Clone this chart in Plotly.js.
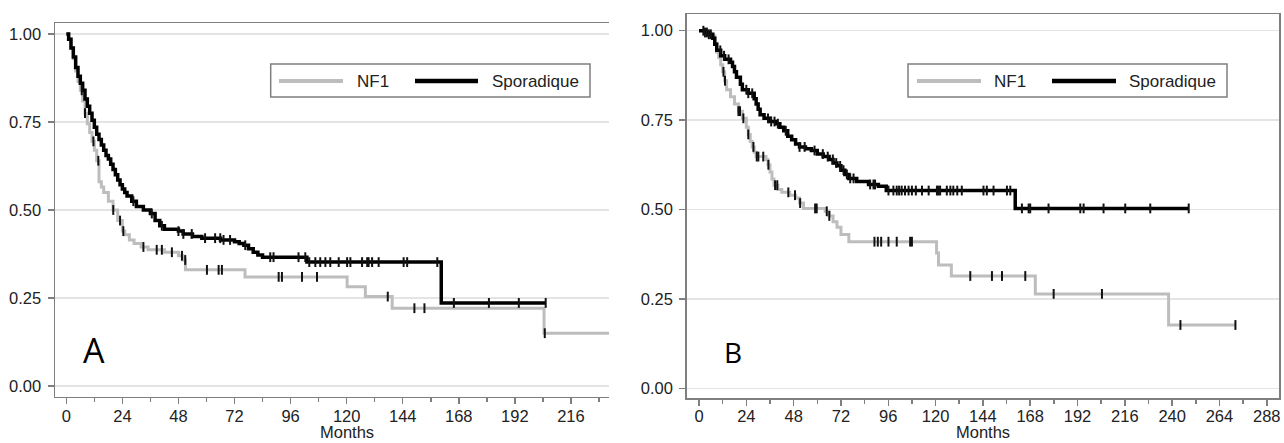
<!DOCTYPE html>
<html><head><meta charset="utf-8">
<script src="https://cdn.plot.ly/plotly-3.0.1.min.js"></script>
<style>html,body{margin:0;padding:0;background:#fff}#chart{width:1284px;height:443px}</style>
</head><body><div id="chart"></div>
<script>
// ---------- Data ----------
const seriesNames = ["NF1", "Sporadique"];
const xTickVals = [0,24,48,72,96,120,144,168,192,216,240,264,288];
const yTickVals = [0,0.25,0.5,0.75,1];
const xTitle = "Months";
const panelLabels = ["A", "B"];

// Panel A — NF1 (grey)
const A_nf1_t = [0,1,2,3,4,5,6,7,8,9,10,11,12,13,14,15,16,18,20,22,24,25,27,29,32,35,42,48,50,51,76.5,120.2,128,139.5,204.5,240];
const A_nf1_s = [1.0,0.985,0.96,0.93,0.895,0.865,0.84,0.81,0.775,0.745,0.72,0.695,0.67,0.64,0.58,0.565,0.55,0.525,0.50,0.47,0.44,0.43,0.415,0.405,0.395,0.387,0.38,0.37,0.358,0.33,0.31,0.282,0.254,0.221,0.15,0.15];
const A_nf1_cens = [6.6,8,11.6,13.7,20.1,23,24.4,33,38.7,40.9,45.2,49.5,50.9,60.2,65.2,66.6,90.9,92.3,100.9,107.3,137.6,149,153.3,204.8];

// Panel A — Sporadique (black)
const A_spo_t = [0,1,2,3,4,5,6,7,8,9,10,11,12,13,14,15,16,17,18,19,20,21,22,23,24,25,26,28,30,33,36,38,40,42,48,50,54,58,66,72,74,76,78,80,82,84,103,160.5,205.2];
const A_spo_s = [1.0,0.985,0.96,0.935,0.905,0.88,0.86,0.84,0.815,0.795,0.775,0.755,0.735,0.715,0.70,0.685,0.67,0.655,0.645,0.63,0.615,0.60,0.585,0.572,0.56,0.55,0.54,0.525,0.51,0.50,0.49,0.47,0.455,0.445,0.44,0.432,0.425,0.42,0.415,0.41,0.405,0.40,0.39,0.38,0.372,0.366,0.352,0.236,0.236];
const A_spo_cens = [28.7,36.6,40.9,48,50.1,53.7,59.4,63.7,65.9,67.3,70.1,76.6,87.3,88.7,99.4,102.3,104,106.6,108.7,110.9,113.0,116.6,120.2,121.6,126.6,128.8,129.4,130.9,133.7,144.4,145.9,158.8,165.9,180.9,193.7,205.2];

// Panel B — NF1 (grey)
const B_nf1_t = [0,4,6,8,9,10,11,12,13,14,16,18,20,22,24,25,26,27,28,29,34,35,36,37,38,40,42,46,49,51,53,64,66,68,70,72,76,120.5,121.5,128,170.6,238.2,272.1];
const B_nf1_s = [1.0,0.995,0.985,0.965,0.94,0.925,0.905,0.885,0.86,0.835,0.815,0.795,0.775,0.755,0.73,0.71,0.69,0.675,0.66,0.648,0.64,0.625,0.605,0.585,0.568,0.556,0.548,0.54,0.532,0.518,0.503,0.495,0.482,0.466,0.45,0.43,0.41,0.378,0.345,0.314,0.264,0.177,0.177];
const B_nf1_cens = [12.4,13.2,20,20.8,22.5,25,27.6,29.3,30.1,32.6,35.2,38.6,39.7,45.3,48.7,51.3,58.9,59.7,64.8,66.1,89,90.7,92.4,96.1,100.3,107.1,108,137.6,148.6,153.7,165.5,179.9,204.4,244.2,272.1];

// Panel B — Sporadique (black)
const B_spo_t = [0,3,5,7,8,9,11,13,16,17,18,19,21,22,25,28,29,30,31,33,36,39,41,43,45,47,49,51,54,57,60,63,66,68,70,72,74,76,80,86,91,95,160.4,248.4];
const B_spo_s = [1.0,0.995,0.99,0.979,0.962,0.945,0.93,0.92,0.912,0.9,0.885,0.87,0.85,0.835,0.825,0.81,0.795,0.78,0.765,0.755,0.746,0.74,0.73,0.72,0.705,0.695,0.683,0.675,0.67,0.665,0.655,0.648,0.64,0.63,0.622,0.61,0.598,0.587,0.578,0.57,0.565,0.553,0.503,0.503];
const B_spo_cens = [2.2,3,4,5,6,10.8,12.7,15,24,25,27,35,36.6,38.3,40,44,51,53.6,58.6,62.8,65.3,67.9,69.6,71.6,73.3,75,76.7,78.4,86.8,88.5,89.3,96.1,98.6,100.3,101.5,102.8,104.5,106.3,108,110,113.1,116.5,120.7,121.5,122.3,125.7,127.5,129,131,133.3,144.3,146,149.4,156.2,157.9,163.8,167.2,168,177.3,193.4,195.1,205.2,216.2,228.9,248.4];

// ---------- Styling / layout ----------
const W = 1284, H = 443;
const X = p => p / W;
const Y = p => 1 - p / H;
const GREY = '#bdbdbd', BLACK = '#000000', FRAME = '#7f7f7f', GRID = '#e4e4e4', TXT = '#222222';
const FONT = 'Liberation Sans, Arial, sans-serif';

function stepAt(ts, ss, t) {
  let v = ss[0];
  for (let i = 0; i < ts.length; i++) { if (ts[i] <= t) v = ss[i]; else break; }
  return v;
}

function curve(ts, ss, color, width, xa, ya) {
  return {x: ts, y: ss, mode: 'lines', line: {shape: 'hv', color: color, width: width},
          xaxis: xa, yaxis: ya, hoverinfo: 'skip', showlegend: false};
}
function cens(cs, ts, ss, xa, ya) {
  return {x: cs, y: cs.map(c => stepAt(ts, ss, c)), mode: 'markers',
          marker: {symbol: 'line-ns', size: 7, color: '#111', line: {width: 2, color: '#111'}},
          xaxis: xa, yaxis: ya, hoverinfo: 'skip', showlegend: false, cliponaxis: false};
}

const data = [
  curve(A_nf1_t, A_nf1_s, GREY, 3, 'x', 'y'),
  curve(A_spo_t, A_spo_s, BLACK, 3.5, 'x', 'y'),
  cens(A_nf1_cens, A_nf1_t, A_nf1_s, 'x', 'y'),
  cens(A_spo_cens, A_spo_t, A_spo_s, 'x', 'y'),
  curve(B_nf1_t, B_nf1_s, GREY, 3, 'x2', 'y2'),
  curve(B_spo_t, B_spo_s, BLACK, 3.5, 'x2', 'y2'),
  cens(B_nf1_cens, B_nf1_t, B_nf1_s, 'x2', 'y2'),
  cens(B_spo_cens, B_spo_t, B_spo_s, 'x2', 'y2')
];

function xAxis(domain, range, maxTick, anchor, standoff) {
  return {
    domain: domain, range: range, anchor: anchor,
    tickmode: 'array', tickvals: xTickVals.filter(v => v <= maxTick),
    ticktext: xTickVals.filter(v => v <= maxTick).map(String),
    ticks: 'outside', ticklen: 6, tickwidth: 1.5, tickcolor: FRAME, ticklabelstandoff: standoff,
    minor: {tickmode: 'linear', tick0: 0, dtick: 12, ticks: 'outside', ticklen: 4, tickwidth: 1.5, tickcolor: FRAME, showgrid: false},
    showline: true, linecolor: FRAME, linewidth: 1.5, mirror: true,
    showgrid: false, zeroline: false, fixedrange: true,
    tickfont: {family: FONT, size: 16.5, color: TXT}
  };
}
function yAxis(domain, range, mirror, anchor) {
  return {
    domain: domain, range: range, anchor: anchor,
    tickmode: 'array', tickvals: yTickVals, ticktext: yTickVals.map(v => v.toFixed(2)),
    ticks: 'outside', ticklen: 6, tickwidth: 1.5, tickcolor: FRAME, ticklabelstandoff: 3,
    showline: true, linecolor: FRAME, linewidth: 1.5, mirror: mirror,
    showgrid: true, gridcolor: GRID, gridwidth: 1.5, zeroline: false, fixedrange: true,
    tickfont: {family: FONT, size: 16.5, color: TXT}
  };
}

// legend helper (drawn in paper coordinates)
function legendShapes(box, g, b) {
  return [
    {type: 'rect', xref: 'paper', yref: 'paper', x0: X(box[0]), x1: X(box[1]), y0: Y(box[2]), y1: Y(box[3]),
     line: {color: FRAME, width: 1.5}, fillcolor: '#ffffff', layer: 'above'},
    {type: 'line', xref: 'paper', yref: 'paper', x0: X(g[0]), x1: X(g[1]), y0: Y(81), y1: Y(81),
     line: {color: GREY, width: 4}, layer: 'above'},
    {type: 'line', xref: 'paper', yref: 'paper', x0: X(b[0]), x1: X(b[1]), y0: Y(81), y1: Y(81),
     line: {color: BLACK, width: 4.5}, layer: 'above'}
  ];
}
function txt(text, x, y, size, anchor, yanchor) {
  return {text: text, xref: 'paper', yref: 'paper', x: X(x), y: Y(y), xanchor: anchor || 'left', yanchor: yanchor || 'middle',
          showarrow: false, font: {family: FONT, size: size, color: TXT}};
}

const layout = {
  width: W, height: H,
  margin: {l: 0, r: 0, t: 0, b: 0, pad: 0},
  paper_bgcolor: '#ffffff', plot_bgcolor: '#ffffff',
  showlegend: false,
  xaxis: xAxis([X(55), X(609)], [-4.84, 232.3], 216, 'y', -2),
  yaxis: yAxis([Y(396.7), Y(23.3)], [-0.0304, 1.0304], false, 'x'),
  xaxis2: xAxis([X(686.7), X(1279)], [-6.24, 294.2], 288, 'y2', -4),
  yaxis2: yAxis([Y(398.3), Y(14)], [-0.028, 1.0467], true, 'x2'),
  shapes: [].concat(
    legendShapes([270.7, 590, 97, 64], [279, 343], [415, 478]),
    legendShapes([908, 1227, 97, 64], [917, 981], [1052, 1116])
  ),
  annotations: [
    txt(seriesNames[0], 355, 81.5, 17), txt(seriesNames[1], 490, 81.5, 17),
    txt(seriesNames[0], 992, 81.5, 17), txt(seriesNames[1], 1127, 81.5, 17),
    txt(xTitle, 347, 443, 16.5, 'center', 'bottom'), txt(xTitle, 983, 443, 16.5, 'center', 'bottom'),
    {text: panelLabels[0], xref: 'paper', yref: 'paper', x: X(94), y: Y(350), xanchor: 'center', yanchor: 'middle',
     showarrow: false, font: {family: 'Open Sans, Liberation Sans, sans-serif', size: 34, color: '#000'}},
    {text: panelLabels[1], xref: 'paper', yref: 'paper', x: X(733), y: Y(352), xanchor: 'center', yanchor: 'middle',
     showarrow: false, font: {family: 'Open Sans, Liberation Sans, sans-serif', size: 28, color: '#000'}}
  ]
};

Plotly.newPlot('chart', data, layout, {displayModeBar: false, staticPlot: true});
</script></body></html>
